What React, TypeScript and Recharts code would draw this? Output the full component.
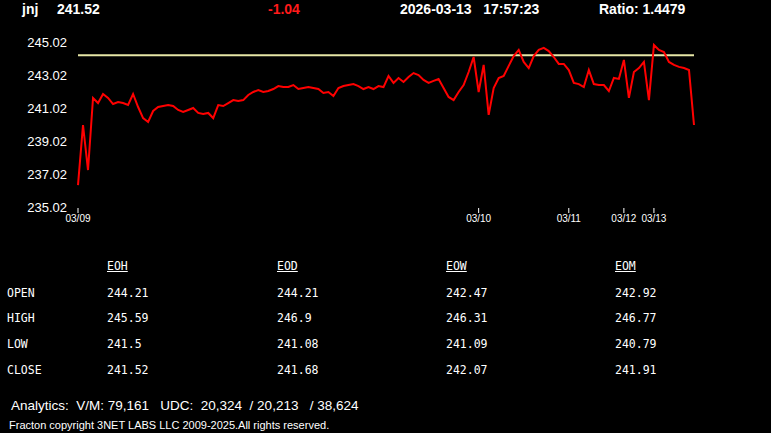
import { LineChart, Line, XAxis, YAxis, ReferenceLine } from "recharts";

// one sample every few minutes
const prices = [
  236.35, 239.99, 237.26, 241.63, 241.32, 241.87, 241.63, 241.26, 241.38, 241.32,
  241.2, 241.87, 241.08, 240.41, 240.17, 240.84, 241.08, 241.14, 241.2, 241.14,
  240.9, 240.78, 240.9, 241.02, 240.72, 240.66, 240.72, 240.41, 241.2, 241.14,
  241.32, 241.5, 241.44, 241.5, 241.81, 241.99, 242.11, 241.99, 242.05, 242.17,
  242.35, 242.29, 242.29, 242.41, 242.17, 242.23, 242.29, 242.23, 242.17, 241.93,
  241.99, 241.75, 242.23, 242.35, 242.41, 242.47, 242.35, 242.17, 242.29, 242.17,
  242.35, 242.29, 242.96, 242.54, 242.84, 242.6, 242.9, 243.14, 243.02, 242.72,
  242.54, 242.66, 242.78, 242.23, 241.69, 241.5, 241.99, 242.41, 243.2, 244.11,
  241.99, 243.63, 240.6, 242.23, 242.84, 242.96, 243.57, 244.17, 244.54, 243.81,
  243.44, 244.17, 244.54, 244.66, 244.47, 244.11, 243.69, 243.69, 243.32, 242.54,
  242.47, 242.29, 243.32, 242.47, 242.41, 242.41, 242.05, 242.84, 242.78, 243.93,
  241.63, 243.2, 243.44, 243.81, 241.5, 244.84, 244.54, 244.41, 243.81, 243.63,
  243.51, 243.44, 243.32, 239.99,
];

// index of the first sample of each day
const dayStarts = [0, 80, 98, 109, 115];
const dayLabels = ["03/09", "03/10", "03/11", "03/12", "03/13"];

const yTicks = [235.02, 237.02, 239.02, 241.02, 243.02, 245.02];
const openLevel = 244.21;

const symbol = "jnj";
const lastPrice = "241.52";
const change = "-1.04";
const stamp = "2026-03-13   17:57:23";
const ratio = "Ratio: 1.4479";

const tableCols = ["EOH", "EOD", "EOW", "EOM"];
const tableRows = ["OPEN", "HIGH", "LOW", "CLOSE"];
const eoh = ["244.21", "245.59", "241.5", "241.52"];
const eod = ["244.21", "246.9", "241.08", "241.68"];
const eow = ["242.47", "246.31", "241.09", "242.07"];
const eom = ["242.92", "246.77", "240.79", "241.91"];
const tableVals = [eoh, eod, eow, eom];

const analytics = "Analytics:  V/M: 79,161   UDC:  20,324  / 20,213   / 38,624";
const copyright = "Fracton copyright 3NET LABS LLC 2009-2025.All rights reserved.";

const data = prices.map((p, i) => ({ i, p }));

const colX = [107, 277, 446, 615];
const rowY = [293, 318, 344, 370];

export default function App() {
  const head: React.CSSProperties = {
    position: "absolute",
    top: 1,
    fontFamily: "'Liberation Sans', Arial, sans-serif",
    fontWeight: "bold",
    fontSize: 14,
    color: "#fff",
    whiteSpace: "pre",
  };
  const mono: React.CSSProperties = {
    position: "absolute",
    fontFamily: "'DejaVu Sans Mono', monospace",
    fontSize: 11.5,
    color: "#fff",
    whiteSpace: "pre",
    lineHeight: "14px",
  };

  return (
    <div style={{ position: "fixed", left: 0, top: 0, width: 771, height: 433, background: "#000", overflow: "hidden" }}>
      <span style={{ ...head, left: 22 }}>{symbol}</span>
      <span style={{ ...head, left: 57 }}>{lastPrice}</span>
      <span style={{ ...head, left: 268, color: "#ff1a1a" }}>{change}</span>
      <span style={{ ...head, left: 400 }}>{stamp}</span>
      <span style={{ ...head, left: 599 }}>{ratio}</span>

      <div style={{ position: "absolute", left: 0, top: 0 }}>
        <LineChart width={771} height={240} data={data} margin={{ top: 42, right: 77, bottom: 13, left: 8 }}>
          <XAxis
            type="number"
            dataKey="i"
            domain={[0, "dataMax"]}
            ticks={dayStarts}
            interval={0}
            tickFormatter={(v: number) => dayLabels[dayStarts.indexOf(v)] ?? ""}
            axisLine={false}
            tickLine={{ stroke: "#fff", transform: "translate(0, 1)" }}
            tickSize={5}
            tickMargin={3}
            height={20}
            tick={{ fontSize: 10, fill: "#fff", fontFamily: "'Liberation Sans', Arial, sans-serif" }}
          />
          <YAxis
            domain={[235.02, 245.02]}
            ticks={yTicks}
            interval={0}
            axisLine={false}
            tickLine={false}
            tickSize={6}
            tickMargin={5}
            width={70}
            tickFormatter={(v: number) => v.toFixed(2)}
            tick={{ fontSize: 13, fill: "#fff", fontFamily: "'Liberation Sans', Arial, sans-serif" }}
          />
          <ReferenceLine y={openLevel} stroke="#e6e6a6" strokeWidth={2} />
          <Line
            type="linear"
            dataKey="p"
            stroke="#ff0000"
            strokeWidth={2}
            dot={false}
            isAnimationActive={false}
          />
        </LineChart>
      </div>

      {tableCols.map((c, ci) => (
        <span key={c} style={{ ...mono, left: colX[ci], top: 259, textDecoration: "underline" }}>
          {c}
        </span>
      ))}
      {tableRows.map((r, ri) => (
        <span key={r} style={{ ...mono, left: 7, top: rowY[ri] - 7 }}>
          {r}
        </span>
      ))}
      {tableVals.map((col, ci) =>
        col.map((v, ri) => (
          <span key={`${ci}-${ri}`} style={{ ...mono, left: colX[ci], top: rowY[ri] - 7 }}>
            {v}
          </span>
        ))
      )}

      <div
        style={{
          position: "absolute",
          left: 11,
          top: 398,
          fontFamily: "'Liberation Sans', Arial, sans-serif",
          fontSize: 13.5,
          color: "#fff",
          whiteSpace: "pre",
        }}
      >
        {analytics}
      </div>
      <div
        style={{
          position: "absolute",
          left: 9,
          top: 419,
          fontFamily: "'Liberation Sans', Arial, sans-serif",
          fontSize: 11,
          color: "#fff",
          whiteSpace: "pre",
        }}
      >
        {copyright}
      </div>
    </div>
  );
}
